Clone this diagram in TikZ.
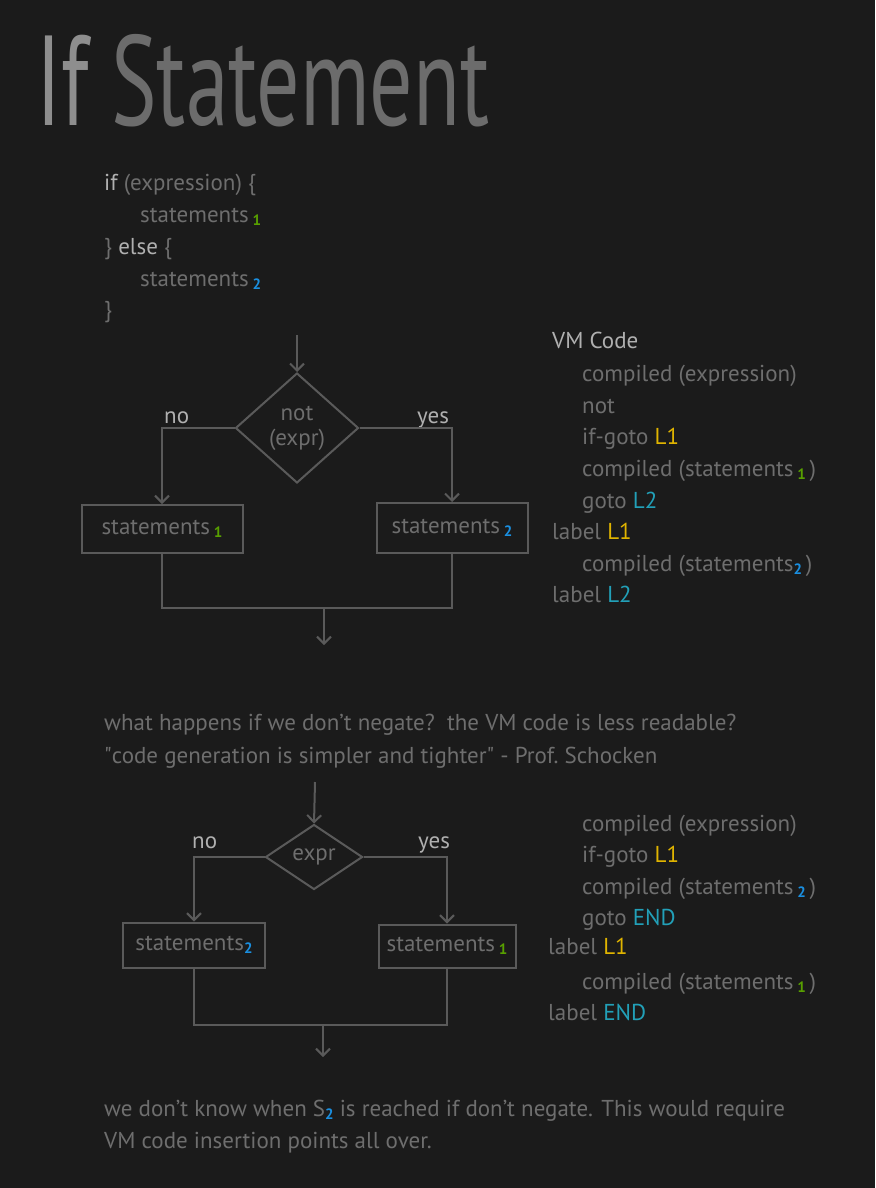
\documentclass[tikz,border=0pt]{standalone}
\usepackage{fontspec}
\setmainfont{PT Sans}
\usetikzlibrary{shapes.geometric,arrows.meta}
\definecolor{bgcol}{HTML}{1B1B1B}
\definecolor{brightgray}{HTML}{B0B0B0}
\definecolor{midgray}{HTML}{6E6E6E}
\definecolor{linegray}{HTML}{5A5A5A}
\definecolor{titlelight}{HTML}{8E8E8E}
\definecolor{titledark}{HTML}{6C6C6C}
\definecolor{subgreen}{HTML}{58A000}
\definecolor{subblue}{HTML}{1A8FE0}
\definecolor{lblyellow}{HTML}{E0B400}
\definecolor{lblteal}{HTML}{22A0B8}
\newcommand{\subone}{\raisebox{-3pt}{\textcolor{subgreen}{\fontsize{15}{15}\selectfont\bfseries 1}}}
\newcommand{\subtwo}{\raisebox{-3pt}{\textcolor{subblue}{\fontsize{15}{15}\selectfont\bfseries 2}}}
\newcommand{\Lone}{\textcolor{lblyellow}{L1}}
\newcommand{\Ltwo}{\textcolor{lblteal}{L2}}
\newcommand{\Lend}{\textcolor{lblteal}{END}}
\begin{document}
\begin{tikzpicture}[x=1pt,y=-1pt,
    txt/.style={anchor=base west,inner sep=0pt,text=midgray,font=\fontsize{23}{23}\selectfont},
    hi/.style={txt,text=brightgray},
    flowline/.style={draw=linegray,line width=2pt},
    arr/.style={flowline,-{Straight Barb[length=7pt,width=14pt]}},
    stmtbox/.style={flowline,rectangle,inner sep=0pt,text=midgray,font=\fontsize{23}{23}\selectfont},
    decision/.style={flowline,diamond,inner sep=0pt,text=midgray,align=center,font=\fontsize{23}{25}\selectfont}]
  \fill[bgcol] (0,0) rectangle (875,1188);
  \useasboundingbox (0,0) rectangle (875,1188);

  % title
  \node[anchor=base west,inner sep=0pt,font=\fontsize{128}{128}\selectfont] (title) at (36,125)
    {\scalebox{0.67}[1]{\textcolor{titlelight}{If} \textcolor{titledark}{Statement}}};

  % source code
  \node[txt] (src1) at (104,190) {\textcolor{brightgray}{if} (expression) \{};
  \node[txt] (src2) at (140,222) {statements\,\subone};
  \node[txt] (src3) at (104,254) {\} \textcolor{brightgray}{else} \{};
  \node[txt] (src4) at (140,286) {statements\,\subtwo};
  \node[txt] (src5) at (104,317) {\}};

  % first flowchart
  \coordinate (in1) at (297,335);
  \node[decision,minimum width=123,minimum height=110] (dia1) at (297,428) {not\\(expr)};
  \node[hi] (no1) at (164,423) {no};
  \node[hi] (yes1) at (417,423) {yes};
  \node[stmtbox,minimum width=161,minimum height=48] (box1) at (162,529) {statements\,\subone};
  \node[stmtbox,minimum width=151,minimum height=50] (box2) at (452,528) {statements\,\subtwo};
  \coordinate (join1) at (324,608);
  \coordinate (out1) at (324,645);
  \draw[arr] (in1) -- (dia1.north);
  \draw[arr] (dia1.west) -| (box1.north);
  \draw[arr] (dia1.east) -| (box2.north);
  \draw[flowline] (box1.south) |- (join1) -| (box2.south);
  \draw[arr] (join1) -- (out1);

  % VM code for the first version
  \node[hi] (vmhead) at (552,348) {VM Code};
  \node[txt] (vm1) at (582,381) {compiled (expression)};
  \node[txt] (vm2) at (582,413) {not};
  \node[txt] (vm3) at (582,444) {if-goto \Lone};
  \node[txt] (vm4) at (582,476) {compiled (statements\,\subone\,)};
  \node[txt] (vm5) at (582,508) {goto \Ltwo};
  \node[txt] (vm6) at (552,539) {label \Lone};
  \node[txt] (vm7) at (582,571) {compiled (statements\subtwo\,)};
  \node[txt] (vm8) at (552,602) {label \Ltwo};

  % question
  \node[txt] (ask1) at (104,730) {what happens if we don't negate?\ \ the VM code is less readable?};
  \node[txt] (ask2) at (104,763) {\textquotedbl code generation is simpler and tighter\textquotedbl\ - Prof.\ Schocken};

  % second flowchart
  \coordinate (in2) at (315,782);
  \node[decision,minimum width=97,minimum height=65] (dia2) at (314,857) {expr};
  \node[hi] (no2) at (192,848) {no};
  \node[hi] (yes2) at (418,848) {yes};
  \node[stmtbox,minimum width=142,minimum height=45] (box3) at (194,945) {statements\subtwo};
  \node[stmtbox,minimum width=137,minimum height=43] (box4) at (447,946) {statements\,\subone};
  \coordinate (join2) at (323,1025);
  \coordinate (out2) at (323,1057);
  \draw[arr] (in2) -- (dia2.north);
  \draw[arr] (dia2.west) -| (box3.north);
  \draw[arr] (dia2.east) -| (box4.north);
  \draw[flowline] (box3.south) |- (join2) -| (box4.south);
  \draw[arr] (join2) -- (out2);

  % VM code for the second version
  \node[txt] (wm1) at (582,831) {compiled (expression)};
  \node[txt] (wm2) at (582,862) {if-goto \Lone};
  \node[txt] (wm3) at (582,894) {compiled (statements\,\subtwo\,)};
  \node[txt] (wm4) at (582,925) {goto \Lend};
  \node[txt] (wm5) at (548,954) {label \Lone};
  \node[txt] (wm6) at (582,989) {compiled (statements\,\subone\,)};
  \node[txt] (wm7) at (548,1020) {label \Lend};

  % remark
  \node[txt] (note1) at (104,1116) {we don't know when S\subtwo\ is reached if don't negate. This would require};
  \node[txt] (note2) at (104,1148) {VM code insertion points all over.};
\end{tikzpicture}
\end{document}
